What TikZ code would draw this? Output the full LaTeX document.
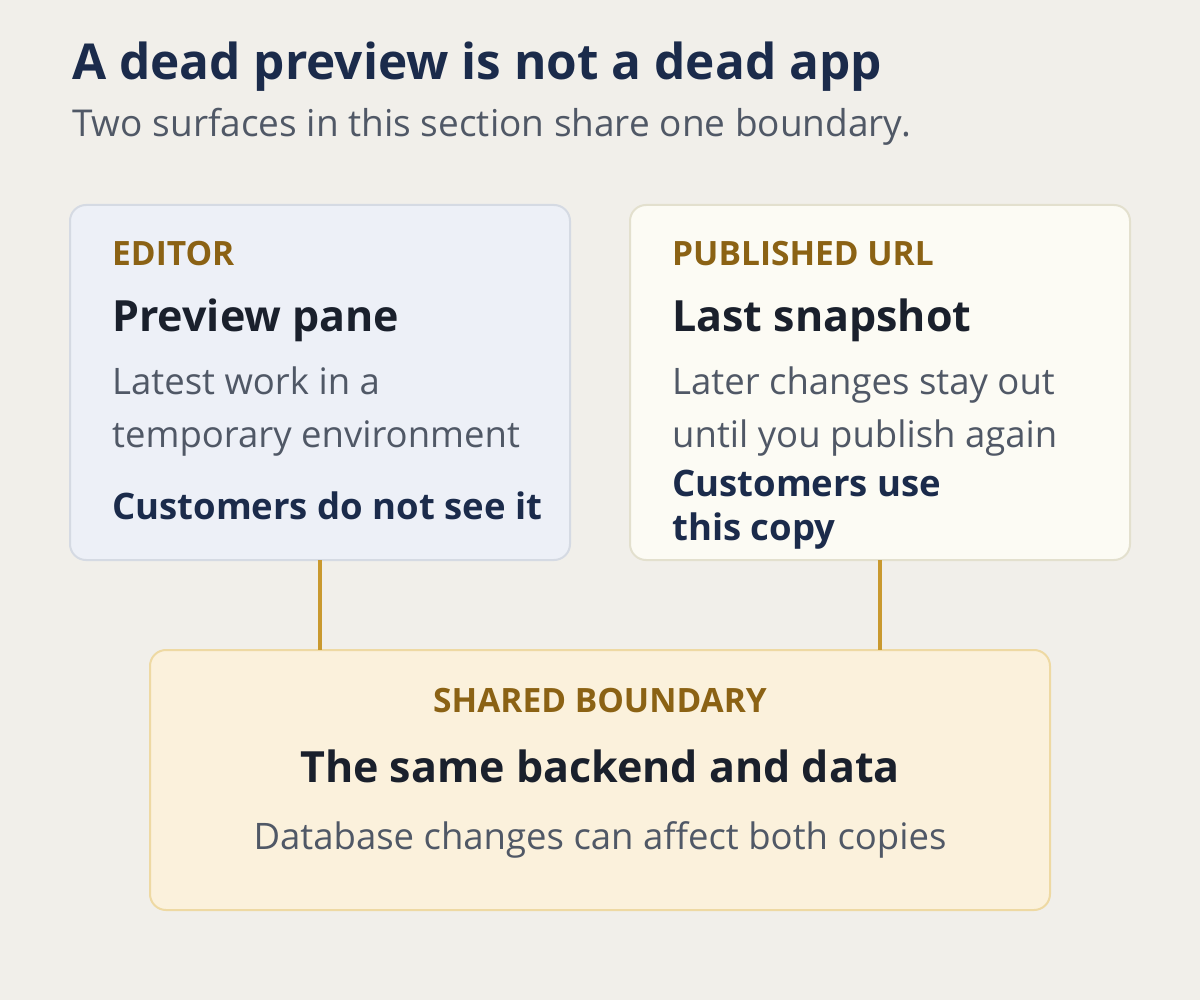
\documentclass[tikz,border=0pt]{standalone}
\usepackage{fontspec}
\setmainfont{Open Sans}
\begin{document}
\begin{tikzpicture}[x=1pt,y=-1pt,
 box/.style={rounded corners=16pt,line width=2pt},
 conn/.style={draw=cGold,line width=4pt},
 t/.style={anchor=base west,inner sep=0pt},
 tc/.style={anchor=base,inner sep=0pt},
 kicker/.style={font=\fontsize{33.5}{38}\selectfont\bfseries,text=cKick},
 head/.style={font=\fontsize{43}{50}\selectfont\bfseries,text=cHead},
 body/.style={font=\fontsize{36.5}{44}\selectfont,text=cBody},
 strong/.style={font=\fontsize{36.5}{44}\selectfont\bfseries,text=cNavy}]
\definecolor{cBg}{HTML}{F1EFEA}
\definecolor{cGold}{HTML}{C9992F}
\definecolor{cKick}{HTML}{8B6214}
\definecolor{cHead}{HTML}{1A202C}
\definecolor{cBody}{HTML}{505866}
\definecolor{cNavy}{HTML}{1B2B4B}
\path[fill=cBg] (0,0) rectangle (1200,1000);
\useasboundingbox (0,0) rectangle (1200,1000);
\node[t,font=\fontsize{49.5}{56}\selectfont\bfseries,text=cNavy] (title) at (72,80) {A dead preview is not a dead app};
\node[t,font=\fontsize{37}{42}\selectfont,text=cBody] (sub) at (72,137) {Two surfaces in this section share one boundary.};
\draw[box,fill={rgb,255:red,237;green,240;blue,247},draw={rgb,255:red,213;green,218;blue,227}] (70,205) rectangle (570,560);
\node[draw=none,inner sep=0pt,minimum width=500pt,minimum height=355pt] (ed) at (320,382.5) {};
\draw[box,fill={rgb,255:red,252;green,251;blue,244},draw={rgb,255:red,227;green,224;blue,206}] (630,205) rectangle (1130,560);
\node[draw=none,inner sep=0pt,minimum width=500pt,minimum height=355pt] (pub) at (880,382.5) {};
\draw[box,fill={rgb,255:red,251;green,241;blue,220},draw={rgb,255:red,238;green,217;blue,163}] (150,650) rectangle (1050,910);
\node[draw=none,inner sep=0pt,minimum width=900pt,minimum height=260pt] (sh) at (600,780) {};
\draw[conn] (ed.south) -- (ed.south |- sh.north);
\draw[conn] (pub.south) -- (pub.south |- sh.north);
\node[t,kicker] (k1) at (112,266) {EDITOR};
\node[t,head] (h1) at (112,332) {Preview pane};
\node[t,body] (b1) at (112,395) {Latest work in a};
\node[t,body] (b1b) at (112,447) {temporary environment};
\node[t,strong] (s1) at (112,519) {Customers do not see it};
\node[t,kicker] (k2) at (672,266) {PUBLISHED URL};
\node[t,head] (h2) at (672,332) {Last snapshot};
\node[t,body] (b2) at (672,395) {Later changes stay out};
\node[t,body] (b2b) at (672,447) {until you publish again};
\node[t,strong] (s2) at (672,496) {Customers use};
\node[t,strong] (s2b) at (672,540) {this copy};
\node[tc,kicker] (k3) at (600,712) {SHARED BOUNDARY};
\node[tc,head] (h3) at (600,782) {The same backend and data};
\node[tc,body,font=\fontsize{36.5}{42}\selectfont] (b3) at (600,849) {Database changes can affect both copies};
\end{tikzpicture}
\end{document}
